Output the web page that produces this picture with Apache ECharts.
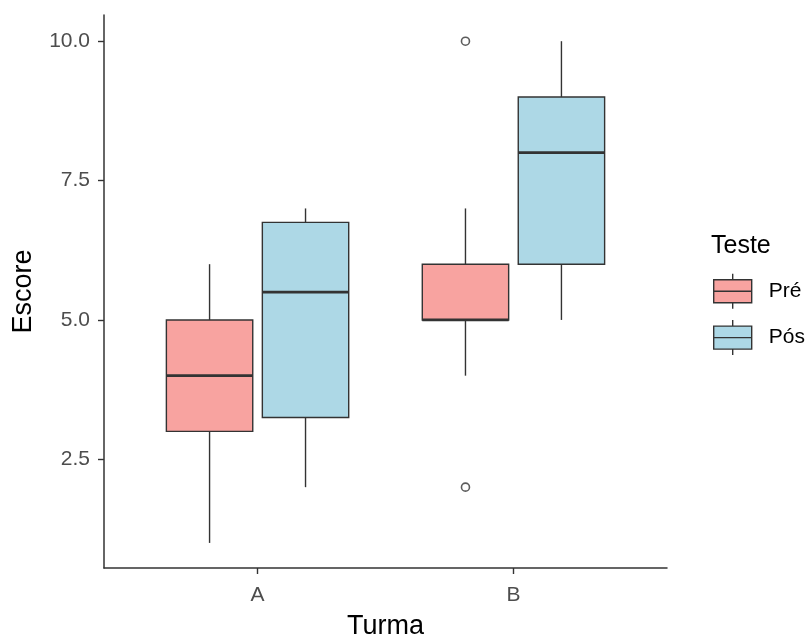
<!DOCTYPE html>
<html>
<head>
<meta charset="utf-8">
<script src="https://cdn.jsdelivr.net/npm/echarts@6/dist/echarts.min.js"></script>
<style>
    html, body { margin: 0; padding: 0; background: #fff; }
    #chart { width: 811px; height: 637px; }
</style>
</head>
<body>
<div id="chart"></div>
<script>
// categorias e estatísticas: [min, q1, mediana, q3, max]
const categories = ["A", "B"];
const groups = ["Pré", "Pós"];
const preStats = [
    [1, 3, 4, 5, 6],
    [4, 5, 5, 6, 7]
];
const posStats = [
    [2, 3.25, 5.5, 6.75, 7],
    [5, 6, 8, 9, 10]
];
// outliers: [indice da categoria, valor]
const preOutliers = [[1, 10], [1, 2]];
const posOutliers = [];
const yTicks = [2.5, 5, 7.5, 10];

const fontFamily = "Liberation Sans, Arial, sans-serif";
const colors = ["#F8A3A0", "#ADD8E6"];
const dodge = 0.1875;   // deslocamento de cada caixa dentro da categoria
const boxWidth = 0.3375;

const chart = echarts.init(document.getElementById("chart"));

function boxItem(offset, color) {
    return function (params, api) {
        const x = api.value(0) + offset;
        const low = api.coord([x, api.value(1)]);
        const q1 = api.coord([x, api.value(2)]);
        const med = api.coord([x, api.value(3)]);
        const q3 = api.coord([x, api.value(4)]);
        const high = api.coord([x, api.value(5)]);
        const half = api.size([boxWidth, 0])[0] / 2;
        const lineStyle = { stroke: "#333", lineWidth: 1.4 };
        return {
            type: "group",
            children: [
                { type: "line", shape: { x1: high[0], y1: high[1], x2: q3[0], y2: q3[1] }, style: lineStyle },
                { type: "line", shape: { x1: q1[0], y1: q1[1], x2: low[0], y2: low[1] }, style: lineStyle },
                {
                    type: "rect",
                    shape: { x: q3[0] - half, y: q3[1], width: half * 2, height: q1[1] - q3[1] },
                    style: { fill: color, stroke: "#333", lineWidth: 1.4 }
                },
                {
                    type: "line",
                    shape: { x1: med[0] - half, y1: med[1], x2: med[0] + half, y2: med[1] },
                    style: { stroke: "#333", lineWidth: 2.8 }
                }
            ]
        };
    };
}

function toBoxData(stats) {
    return stats.map((s, i) => [i + 1].concat(s));
}

function toOutlierData(list, offset) {
    return list.map(o => [o[0] + 1 + offset, o[1]]);
}

const legendIcon = "path://M19 0 L19 6 M0 6 L38 6 L38 29 L0 29 Z M0 17.5 L38 17.5 M19 29 L19 35";

chart.setOption({
    animation: false,
    textStyle: { fontFamily: fontFamily },
    title: {
        text: "Teste",
        left: 711,
        top: 234,
        padding: 0,
        textStyle: { fontSize: 25, fontWeight: "normal", color: "#000", fontFamily: fontFamily }
    },
    legend: {
        orient: "vertical",
        left: 713,
        top: 273,
        padding: 0,
        itemWidth: 38,
        itemHeight: 35,
        itemGap: 10,
        icon: legendIcon,
        itemStyle: { borderColor: "#333", borderWidth: 1.4 },
        textStyle: { fontSize: 21, color: "#000", padding: [0, 0, 0, 12] },
        data: groups
    },
    grid: {
        left: 104,
        right: 144,
        top: 15,
        bottom: 69,
        containLabel: false,
        outerBoundsMode: "none"
    },
    xAxis: {
        type: "value",
        min: 0.4,
        max: 2.6,
        name: "Turma",
        nameLocation: "middle",
        nameGap: 45,
        nameTextStyle: { fontSize: 27, color: "#000" },
        splitLine: { show: false },
        axisLine: { lineStyle: { color: "#333", width: 1.5 } },
        axisTick: { length: 6, customValues: [1, 2], lineStyle: { color: "#333", width: 1.4 } },
        axisLabel: {
            customValues: [1, 2],
            fontSize: 21,
            color: "#4d4d4d",
            margin: 17,
            formatter: v => categories[Math.round(v) - 1]
        }
    },
    yAxis: {
        type: "value",
        min: 0.55,
        max: 10.47,
        name: "Escore",
        nameLocation: "middle",
        nameGap: 67,
        nameRotate: 90,
        nameTextStyle: { fontSize: 27, color: "#000" },
        splitLine: { show: false },
        axisLine: { show: true, lineStyle: { color: "#333", width: 1.5 } },
        axisTick: { show: true, length: 6, customValues: yTicks, lineStyle: { color: "#333", width: 1.4 } },
        axisLabel: {
            customValues: yTicks,
            fontSize: 21,
            color: "#4d4d4d",
            margin: 14,
            formatter: v => v.toFixed(1)
        }
    },
    series: [
        {
            name: groups[0],
            type: "custom",
            itemStyle: { color: colors[0] },
            renderItem: boxItem(-dodge, colors[0]),
            encode: { x: 0, y: [1, 2, 3, 4, 5] },
            data: toBoxData(preStats)
        },
        {
            name: groups[1],
            type: "custom",
            itemStyle: { color: colors[1] },
            renderItem: boxItem(dodge, colors[1]),
            encode: { x: 0, y: [1, 2, 3, 4, 5] },
            data: toBoxData(posStats)
        },
        {
            type: "scatter",
            symbol: "circle",
            symbolSize: 8,
            itemStyle: { color: "#fff", borderColor: "#333", borderWidth: 1.6 },
            data: toOutlierData(preOutliers, -dodge).concat(toOutlierData(posOutliers, dodge))
        }
    ]
});
</script>
</body>
</html>
